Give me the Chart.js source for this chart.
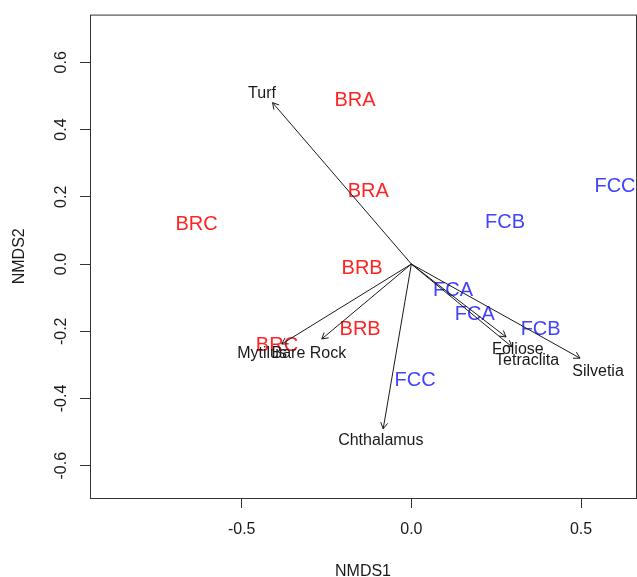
<!DOCTYPE html>
<html>
<head>
<meta charset="utf-8">
<title>NMDS biplot</title>
<script src="https://cdn.jsdelivr.net/npm/chart.js@4.4.0/dist/chart.umd.min.js"></script>
<style>
  body { margin: 0; background: #fff; }
  #wrap { width: 637px; height: 577px; }
</style>
</head>
<body>
<div id="wrap"><canvas id="nmds" width="637" height="577"></canvas></div>
<script>
// Site scores (NMDS1, NMDS2)
const siteNames = ['BRA', 'BRA', 'BRB', 'BRB', 'BRC', 'BRC', 'FCA', 'FCA', 'FCB', 'FCB', 'FCC', 'FCC'];
const siteX = [-0.166, -0.127, -0.145, -0.151, -0.633, -0.396, 0.123, 0.187, 0.276, 0.381, 0.011, 0.600];
const siteY = [0.487, 0.215, -0.012, -0.194, 0.119, -0.243, -0.078, -0.149, 0.124, -0.194, -0.347, 0.230];

// Species vectors (arrow tips)
const speciesNames = ['Turf', 'Silvetia', 'Foliose', 'Tetraclita', 'Chthalamus', 'Mytilus', 'Bare Rock'];
const speciesX = [-0.409, 0.497, 0.279, 0.296, -0.083, -0.382, -0.264];
const speciesY = [0.480, -0.280, -0.217, -0.246, -0.490, -0.238, -0.223];

// Where the species names are written
const speciesLabelX = [-0.440, 0.550, 0.314, 0.341, -0.090, -0.440, -0.302];
const speciesLabelY = [0.508, -0.320, -0.255, -0.288, -0.524, -0.267, -0.267];

// Axes
const xRange = [-0.947, 0.662];
const yRange = [-0.696, 0.742];
const xTicks = [-0.5, 0, 0.5];
const yTicks = [-0.6, -0.4, -0.2, 0, 0.2, 0.4, 0.6];

const RED = '#ff2424';
const BLUE = '#4242ff';
const INK = '#1a1a1a';
const FONT = '"Liberation Sans", Arial, sans-serif';

const siteColor = function(name) {
    return name.indexOf('BR') === 0 ? RED : BLUE;
};

// Site labels under the arrows, arrowheads + species names + frame on top
const biplotPlugin = {
    id: 'biplot',
    beforeDatasetsDraw: function(chart) {
        const ctx = chart.ctx;
        const meta = chart.getDatasetMeta(0);
        ctx.save();
        ctx.font = '20px ' + FONT;
        ctx.textAlign = 'center';
        ctx.textBaseline = 'middle';
        meta.data.forEach(function(pt, i) {
            ctx.fillStyle = siteColor(siteNames[i]);
            ctx.fillText(siteNames[i], pt.x, pt.y);
        });
        ctx.restore();
    },
    afterDatasetsDraw: function(chart) {
        const ctx = chart.ctx;
        const xs = chart.scales.x;
        const ys = chart.scales.y;
        const ox = xs.getPixelForValue(0);
        const oy = ys.getPixelForValue(0);
        const area = chart.chartArea;

        ctx.save();
        // arrowheads
        ctx.strokeStyle = INK;
        ctx.lineWidth = 1;
        speciesNames.forEach(function(name, i) {
            const px = xs.getPixelForValue(speciesX[i]);
            const py = ys.getPixelForValue(speciesY[i]);
            const a = Math.atan2(py - oy, px - ox);
            const len = 7;
            const spread = Math.PI / 6;
            ctx.beginPath();
            ctx.moveTo(px - len * Math.cos(a - spread), py - len * Math.sin(a - spread));
            ctx.lineTo(px, py);
            ctx.lineTo(px - len * Math.cos(a + spread), py - len * Math.sin(a + spread));
            ctx.stroke();
        });

        // species names
        const labelMeta = chart.getDatasetMeta(chart.data.datasets.length - 1);
        ctx.font = '16px ' + FONT;
        ctx.textAlign = 'center';
        ctx.textBaseline = 'middle';
        ctx.fillStyle = INK;
        labelMeta.data.forEach(function(pt, i) {
            ctx.fillText(speciesNames[i], pt.x, pt.y);
        });

        // plot frame
        ctx.strokeStyle = '#333';
        ctx.lineWidth = 1;
        ctx.strokeRect(area.left + 0.5, area.top + 0.5, area.right - area.left, area.bottom - area.top);
        ctx.restore();
    }
};

const arrowDatasets = speciesNames.map(function(name, i) {
    return {
        label: name,
        data: [{ x: 0, y: 0 }, { x: speciesX[i], y: speciesY[i] }],
        showLine: true,
        borderColor: INK,
        borderWidth: 1,
        pointRadius: 0,
        fill: false
    };
});

const ctx = document.getElementById('nmds');

new Chart(ctx, {
    type: 'scatter',
    data: {
        datasets: [
            {
                label: 'sites',
                data: siteNames.map(function(n, i) { return { x: siteX[i], y: siteY[i] }; }),
                pointRadius: 0
            }
        ].concat(arrowDatasets).concat([
            {
                label: 'species labels',
                data: speciesNames.map(function(n, i) { return { x: speciesLabelX[i], y: speciesLabelY[i] }; }),
                pointRadius: 0
            }
        ])
    },
    options: {
        responsive: false,
        animation: false,
        events: [],
        layout: { padding: { top: 12, right: 1, left: 0, bottom: 0 } },
        plugins: {
            legend: { display: false },
            tooltip: { enabled: false }
        },
        scales: {
            x: {
                type: 'linear',
                min: xRange[0],
                max: xRange[1],
                afterBuildTicks: function(scale) {
                    scale.ticks = xTicks.map(function(v) { return { value: v }; });
                },
                afterFit: function(scale) { scale.height = 79; },
                grid: { drawOnChartArea: false, drawTicks: true, tickLength: 10, color: '#333', lineWidth: 1 },
                border: { display: false },
                ticks: {
                    autoSkip: false,
                    maxRotation: 0,
                    padding: 12,
                    color: INK,
                    font: { family: FONT, size: 16 },
                    callback: function(v) { return Number(v).toFixed(1); }
                },
                title: {
                    display: true,
                    text: 'NMDS1',
                    color: INK,
                    font: { family: FONT, size: 16 },
                    padding: { top: 0, bottom: -4 }
                }
            },
            y: {
                type: 'linear',
                min: yRange[0],
                max: yRange[1],
                afterBuildTicks: function(scale) {
                    scale.ticks = yTicks.map(function(v) { return { value: v }; });
                },
                afterFit: function(scale) { scale.width = 90; },
                grid: { drawOnChartArea: false, drawTicks: true, tickLength: 10, color: '#333', lineWidth: 1 },
                border: { display: false },
                ticks: {
                    autoSkip: false,
                    minRotation: 90,
                    maxRotation: 90,
                    crossAlign: 'center',
                    padding: 5,
                    color: INK,
                    font: { family: FONT, size: 16 },
                    callback: function(v) { return Number(v).toFixed(1); }
                },
                title: {
                    display: true,
                    text: 'NMDS2',
                    color: INK,
                    font: { family: FONT, size: 16 },
                    padding: { top: 10, bottom: 0 }
                }
            }
        }
    },
    plugins: [biplotPlugin]
});
</script>
</body>
</html>
